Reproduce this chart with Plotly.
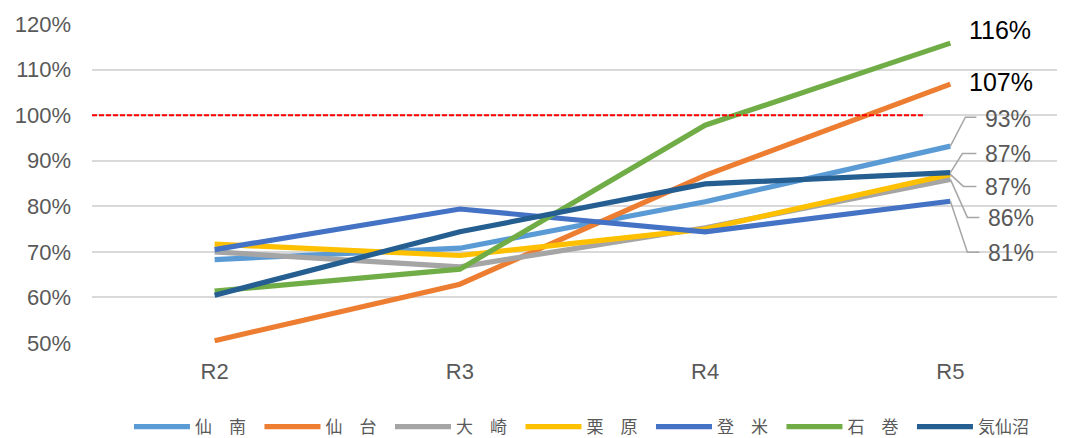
import plotly.graph_objects as go

categories = ["R2", "R3", "R4", "R5"]
series_names = ["仙　南", "仙　台", "大　崎", "栗　原", "登　米", "石　巻", "気仙沼"]
sennan = [0.683, 0.708, 0.810, 0.932]
sendai = [0.505, 0.629, 0.868, 1.068]
osaki = [0.700, 0.667, 0.753, 0.859]
kurihara = [0.717, 0.692, 0.750, 0.870]
tome = [0.705, 0.794, 0.744, 0.811]
ishinomaki = [0.614, 0.662, 0.978, 1.158]
kesennuma = [0.605, 0.744, 0.849, 0.874]
target = 1.0
ytick_vals = [0.5, 0.6, 0.7, 0.8, 0.9, 1.0, 1.1, 1.2]

series_values = [sennan, sendai, osaki, kurihara, tome, ishinomaki, kesennuma]
colors = ["#5B9BD5", "#ED7D31", "#A5A5A5", "#FFC000", "#4472C4", "#70AD47", "#255E91"]

# label styling per series: (xshift, yshift, font size, color, leader path or None)
label_style = {
    "仙　南": (33, 27, 23, "#595959", [(15, 29), (26, 29)]),
    "仙　台": (17, 2, 25, "#000000", None),
    "大　崎": (36, -39, 23, "#595959", [(17, -38), (29, -38)]),
    "栗　原": (33, -13, 23, "#595959", [(13, -12), (26, -12)]),
    "登　米": (36, -52, 23, "#595959", [(17, -51), (29, -51)]),
    "石　巻": (17, 13, 25, "#000000", None),
    "気仙沼": (33, 19, 23, "#595959", [(12, 19), (26, 19)]),
}

fig = go.Figure()
for name, vals, col in zip(series_names, series_values, colors):
    fig.add_trace(go.Scatter(
        x=categories, y=vals, name=name, mode="lines",
        line=dict(color=col, width=5.2),
    ))

annotations = []
shapes = []
for name, vals in zip(series_names, series_values):
    xs, ys, fs, fc, leader = label_style[name]
    last = vals[-1]
    annotations.append(dict(
        x=categories[-1], y=last, xref="x", yref="y",
        text=f"{last:.0%}", showarrow=False,
        xanchor="left", yanchor="middle", xshift=xs, yshift=ys,
        font=dict(family="Liberation Sans, Arial", size=fs, color=fc),
    ))
    if leader:
        path = "M0,0" + "".join(f" L{px},{py}" for px, py in leader)
        shapes.append(dict(
            type="path", xref="x", yref="y",
            xsizemode="pixel", ysizemode="pixel",
            xanchor=len(categories) - 1, yanchor=last,
            path=path, line=dict(color="#A6A6A6", width=1.5),
        ))

shapes.append(dict(
    type="line", xref="x", yref="y",
    x0=-0.5, x1=2.89, y0=target, y1=target,
    line=dict(color="#FF0000", width=2, dash="5px,2px"),
    layer="above",
))

fig.update_layout(
    width=1065, height=430,
    margin=dict(l=84, r=0, t=16, b=95, autoexpand=False),
    paper_bgcolor="white", plot_bgcolor="white",
    font=dict(family="Liberation Sans, Arial", color="#595959"),
    showlegend=True,
    legend=dict(
        orientation="h", x=0.5427, xanchor="center", xref="container",
        y=0.0256, yanchor="middle", yref="container",
        font=dict(family="Noto Sans CJK JP", size=17, color="#595959"),
        itemwidth=56, entrywidth=59.5, entrywidthmode="pixels",
        tracegroupgap=0,
    ),
    xaxis=dict(
        type="category", range=[-0.5, 3.5],
        showgrid=False, showline=False, zeroline=False,
        tickfont=dict(size=22, color="#595959"),
        ticklabelstandoff=13,
    ),
    yaxis=dict(
        range=[0.5, 1.2], tickvals=ytick_vals, tickformat=".0%",
        showgrid=True, gridcolor="#D9D9D9", gridwidth=1.5,
        zeroline=False, showline=False,
        tickfont=dict(size=22, color="#595959"),
        ticklabelstandoff=20,
    ),
    annotations=annotations,
    shapes=shapes,
)

fig.write_html("out.html")
